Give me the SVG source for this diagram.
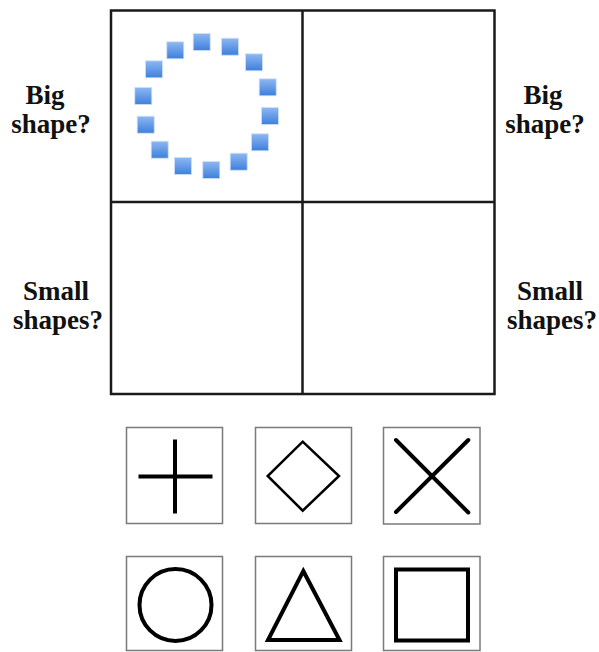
<svg xmlns="http://www.w3.org/2000/svg" width="599" height="652" viewBox="0 0 599 652">
<style>
.lbl{font-family:"Liberation Serif","Times New Roman",serif;font-weight:bold;font-size:27px;fill:#111;text-anchor:middle}
.grid{fill:none;stroke:#1a1a1a;stroke-width:2.5}
.box{fill:#fff;stroke:#7a7a7a;stroke-width:1.5}
.sym{fill:none;stroke:#000;stroke-width:4}
.sq{fill:url(#bl);stroke:#cfe0f7;stroke-width:0.8}
</style>
<defs>
<linearGradient id="bl" x1="0" y1="0" x2="0" y2="1">
<stop offset="0" stop-color="#8db8f2"/>
<stop offset="1" stop-color="#3e7fdc"/>
</linearGradient>
</defs>
<rect width="599" height="652" fill="#fff"/>
<g id="grid">
<rect class="grid" x="111" y="10.5" width="383.5" height="383.5"/>
<line class="grid" x1="302.5" y1="10.5" x2="302.5" y2="394" stroke="#000"/>
<line class="grid" x1="111" y1="202" x2="494.5" y2="202" stroke="#000"/>
</g>
<g id="ring">
<rect class="sq" x="193.2" y="33.5" width="17" height="17"/>
<rect class="sq" x="221.5" y="38.2" width="17" height="17"/>
<rect class="sq" x="245.5" y="53.8" width="17" height="17"/>
<rect class="sq" x="259.2" y="78.8" width="17" height="17"/>
<rect class="sq" x="261.5" y="107.5" width="17" height="17"/>
<rect class="sq" x="251.5" y="133.8" width="17" height="17"/>
<rect class="sq" x="230.2" y="153.2" width="17" height="17"/>
<rect class="sq" x="202.8" y="161.5" width="17" height="17"/>
<rect class="sq" x="174.5" y="157.5" width="17" height="17"/>
<rect class="sq" x="151.2" y="141.2" width="17" height="17"/>
<rect class="sq" x="137.2" y="116.2" width="17" height="17"/>
<rect class="sq" x="134.8" y="87.5" width="17" height="17"/>
<rect class="sq" x="145.5" y="60.8" width="17" height="17"/>
<rect class="sq" x="166.8" y="41.8" width="17" height="17"/>
</g>
<g id="label-big-left">
<text class="lbl" x="45" y="104">Big</text>
<text class="lbl" x="51" y="133">shape?</text>
</g>
<g id="label-big-right">
<text class="lbl" x="543" y="104">Big</text>
<text class="lbl" x="545" y="133">shape?</text>
</g>
<g id="label-small-left">
<text class="lbl" x="56" y="300">Small</text>
<text class="lbl" x="58" y="329">shapes?</text>
</g>
<g id="label-small-right">
<text class="lbl" x="550" y="300">Small</text>
<text class="lbl" x="552" y="329">shapes?</text>
</g>
<g id="cross">
<rect class="box" x="126.5" y="427.5" width="96" height="96"/>
<line class="sym" x1="138.5" y1="476.5" x2="212.5" y2="476.5"/>
<line class="sym" x1="175" y1="439.5" x2="175" y2="513.5"/>
</g>
<g id="diamond">
<rect class="box" x="255.5" y="427.5" width="96" height="96"/>
<polygon points="302.7,441.7 339,476 302.7,510.7 267.7,476" fill="none" stroke="#000" stroke-width="2.5"/>
</g>
<g id="x-mark">
<rect class="box" x="383.5" y="427.5" width="96.5" height="96.5"/>
<line class="sym" x1="396" y1="440" x2="468.3" y2="512.5" stroke-linecap="round"/>
<line class="sym" x1="468.3" y1="440" x2="396" y2="512" stroke-linecap="round"/>
</g>
<g id="circle">
<rect class="box" x="126.5" y="556.5" width="96" height="94"/>
<circle class="sym" cx="175.5" cy="605" r="36"/>
</g>
<g id="triangle">
<rect class="box" x="255.5" y="556.5" width="96" height="94"/>
<polygon class="sym" points="303.3,571 339.5,640 268,640" stroke-linejoin="miter"/>
</g>
<g id="square">
<rect class="box" x="383.5" y="556.5" width="96.5" height="94"/>
<rect class="sym" x="396" y="569.5" width="72" height="71"/>
</g>
</svg>
